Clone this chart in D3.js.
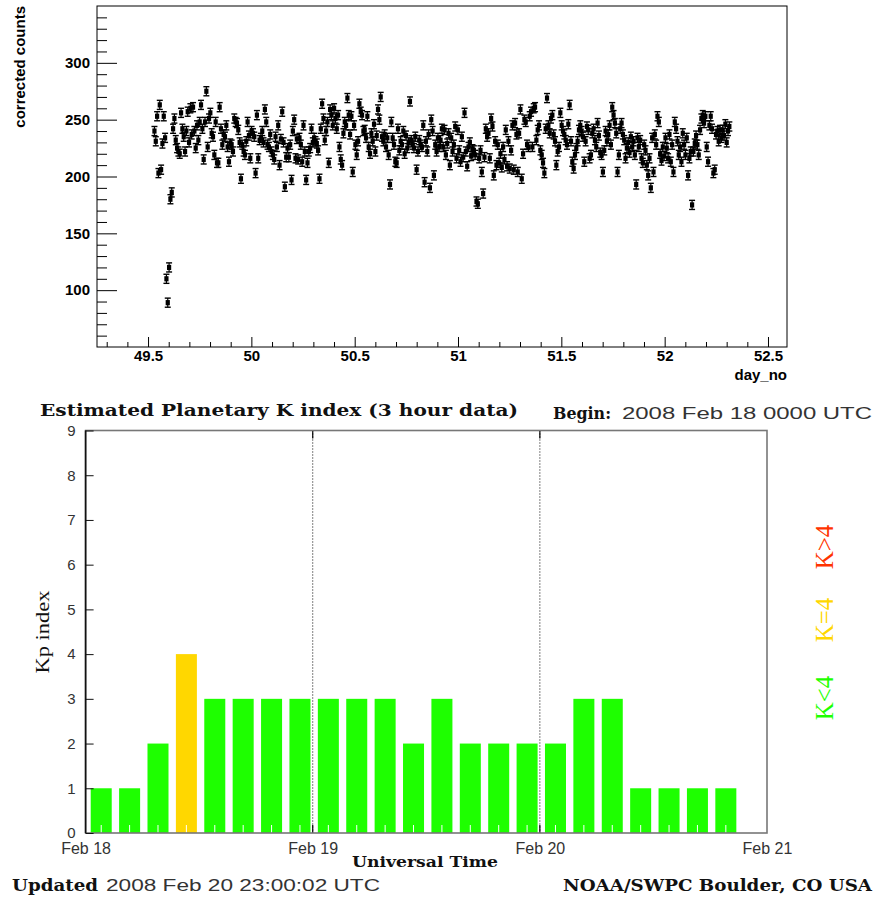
<!DOCTYPE html>
<html>
<head>
<meta charset="utf-8">
<script src="https://cdn.jsdelivr.net/npm/d3@7"></script>
<style>
    body { margin: 0; background: #fff; }
    svg { display: block; }
    .root text { font-family: "Liberation Sans", Arial, sans-serif; font-weight: bold; font-size: 15px; fill: #000; }
    .kp-tick text { font-family: "Liberation Sans", Arial, sans-serif; font-size: 15px; fill: #333; }
    .serif-b { font-family: "DejaVu Serif", serif; font-weight: bold; fill: #111; }
    .serif { font-family: "Liberation Serif", "Times New Roman", serif; }
    .thin { font-family: "Liberation Sans", Arial, sans-serif; fill: #333; }
</style>
</head>
<body>
<svg id="chart" width="877" height="899"></svg>
<script>
// ---- neutron monitor: corrected counts, evenly sampled between these two day_no ----
var countsStartDay = 49.531;
var countsEndDay = 52.313;
var countError = 4;
var correctedCounts = [
    240,231,253,203,263,206,229,253,234,110,89,120,180,186,242,251,232,225,222,220,256,242,235,222,
    240,257,230,260,237,261,240,225,245,232,248,263,242,215,248,275,226,251,256,238,235,219,248,212,
    212,261,242,228,237,235,245,226,213,229,228,222,251,248,247,241,230,198,228,222,219,231,248,236,
    216,240,238,235,203,254,216,232,234,240,230,259,248,228,226,237,222,219,215,235,226,245,210,233,
    257,230,191,217,225,217,228,197,240,250,216,233,215,234,228,213,245,222,197,212,222,225,242,230,
    234,231,229,223,198,242,264,251,232,240,248,212,259,254,245,260,251,242,254,226,215,210,238,248,
    245,269,254,237,253,204,245,228,219,231,264,257,254,240,241,234,253,226,220,238,231,246,222,236,
    259,250,270,235,231,237,226,234,219,193,248,234,228,213,212,242,223,231,228,240,220,236,225,230,
    266,232,228,225,235,206,222,232,228,226,245,195,231,222,237,190,250,240,201,228,222,234,226,232,
    242,226,241,219,229,238,210,234,222,228,244,216,241,223,213,235,217,256,222,209,226,230,218,224,
    223,219,178,176,216,223,204,185,217,242,235,238,216,251,244,201,231,210,228,212,220,208,226,215,
    241,209,231,207,223,245,206,247,237,204,238,259,198,220,250,248,228,226,253,257,226,260,261,232,
    241,245,223,219,212,203,242,269,245,238,251,254,237,231,210,222,226,256,245,240,237,232,228,246,
    263,231,213,207,219,225,231,241,245,240,235,213,231,244,241,216,219,238,242,232,226,247,236,221,
    219,204,223,240,231,237,245,228,261,254,247,238,204,219,242,247,237,232,216,225,230,221,235,226,
    231,219,193,234,226,232,216,212,228,223,210,201,216,190,234,204,237,228,253,248,220,214,226,218,
    234,225,216,237,213,228,204,248,242,231,219,226,213,238,228,219,234,201,216,222,175,222,229,236,
    228,219,241,251,254,247,253,226,213,245,253,242,203,206,237,240,231,241,234,241,236,246,230,240,
    244
];
var dayTicks = [49.5, 50, 50.5, 51, 51.5, 52, 52.5];
var countTicks = [100, 150, 200, 250, 300];

// ---- estimated planetary K index, 3 hour data ----
var kpTimes = [
    "2008-02-18T00:00Z", "2008-02-18T03:00Z", "2008-02-18T06:00Z", "2008-02-18T09:00Z",
    "2008-02-18T12:00Z", "2008-02-18T15:00Z", "2008-02-18T18:00Z", "2008-02-18T21:00Z",
    "2008-02-19T00:00Z", "2008-02-19T03:00Z", "2008-02-19T06:00Z", "2008-02-19T09:00Z",
    "2008-02-19T12:00Z", "2008-02-19T15:00Z", "2008-02-19T18:00Z", "2008-02-19T21:00Z",
    "2008-02-20T00:00Z", "2008-02-20T03:00Z", "2008-02-20T06:00Z", "2008-02-20T09:00Z",
    "2008-02-20T12:00Z", "2008-02-20T15:00Z", "2008-02-20T18:00Z"
];
var kpValues = [1, 1, 2, 4, 3, 3, 3, 3, 3, 3, 3, 2, 3, 2, 2, 2, 2, 3, 3, 1, 1, 1, 1];
var kpTicks = [0, 1, 2, 3, 4, 5, 6, 7, 8, 9];
var dayDates = ["2008-02-18T00:00Z", "2008-02-19T00:00Z", "2008-02-20T00:00Z", "2008-02-21T00:00Z"];
var dayLabels = ["Feb 18", "Feb 19", "Feb 20", "Feb 21"];
var legendLabels = ["K<4", "K=4", "K>4"];

var green = "#1eff00", yellow = "#ffd700", red = "#ff3300";
function kpColor(v) { return v < 4 ? green : (v == 4 ? yellow : red); }

var svg = d3.select("#chart");

// ================= top panel =================
var countsPanel = svg.append("g").attr("class", "root");

var x = d3.scaleLinear().domain([49.253, 52.592]).range([97, 787]);
var y = d3.scaleLinear().domain([50, 350]).range([347, 6]);

var step = (countsEndDay - countsStartDay) / (correctedCounts.length - 1);
var points = correctedCounts.map(function(v, i) {
    return { day: countsStartDay + i * step, value: v };
});

countsPanel.append("rect")
    .attr("x", x.range()[0]).attr("y", y.range()[1])
    .attr("width", x.range()[1] - x.range()[0])
    .attr("height", y.range()[0] - y.range()[1])
    .attr("fill", "none").attr("stroke", "#000").attr("stroke-width", 1);

var minorDay = d3.range(493, 526).filter(function(d) { return d % 5 != 0; }).map(function(d) { return d / 10; });
var minorCount = d3.range(60, 350, 10).filter(function(d) { return d % 50 != 0; });

countsPanel.append("g")
    .attr("transform", "translate(0," + y.range()[0] + ")")
    .call(d3.axisBottom(x).tickValues(dayTicks).tickSize(-10).tickPadding(3).tickFormat(d3.format("")))
    .call(function(g) { g.select(".domain").remove(); });
countsPanel.append("g")
    .attr("transform", "translate(0," + y.range()[0] + ")")
    .call(d3.axisBottom(x).tickValues(minorDay).tickSize(-5).tickFormat(""))
    .call(function(g) { g.select(".domain").remove(); });

countsPanel.append("g")
    .attr("transform", "translate(" + x.range()[0] + ",0)")
    .call(d3.axisLeft(y).tickValues(countTicks).tickSize(-20).tickPadding(7))
    .call(function(g) { g.select(".domain").remove(); });
countsPanel.append("g")
    .attr("transform", "translate(" + x.range()[0] + ",0)")
    .call(d3.axisLeft(y).tickValues(minorCount).tickSize(-10).tickFormat(""))
    .call(function(g) { g.select(".domain").remove(); });

countsPanel.selectAll(".tick line").attr("stroke", "#000");

// error bars + square markers
var pt = countsPanel.append("g").selectAll("g").data(points).enter().append("g");
pt.append("line")
    .attr("x1", function(d) { return x(d.day); }).attr("x2", function(d) { return x(d.day); })
    .attr("y1", function(d) { return y(d.value - countError); })
    .attr("y2", function(d) { return y(d.value + countError); })
    .attr("stroke", "#000").attr("stroke-width", 1.2);
[-1, 1].forEach(function(s) {
    pt.append("line")
        .attr("x1", function(d) { return x(d.day) - 3; }).attr("x2", function(d) { return x(d.day) + 3; })
        .attr("y1", function(d) { return y(d.value + s * countError); })
        .attr("y2", function(d) { return y(d.value + s * countError); })
        .attr("stroke", "#000").attr("stroke-width", 1.4);
});
pt.append("rect")
    .attr("x", function(d) { return x(d.day) - 2.1; })
    .attr("y", function(d) { return y(d.value) - 2.6; })
    .attr("width", 4.2).attr("height", 5.2)
    .attr("fill", "#000");

countsPanel.append("text")
    .attr("transform", "translate(25,6) rotate(-90)")
    .attr("text-anchor", "end")
    .text("corrected counts");
countsPanel.append("text")
    .attr("x", 787).attr("y", 380)
    .attr("text-anchor", "end")
    .text("day_no");

// ================= Kp panel =================
var kp = svg.append("g");

var t = d3.scaleUtc()
    .domain([new Date(dayDates[0]), new Date(dayDates[3])])
    .range([85.6, 767]);
var yk = d3.scaleLinear().domain([0, 9]).range([833, 430.5]);

var bars = kp.append("g").selectAll("g")
    .data(kpValues.map(function(v, i) { return { t: new Date(kpTimes[i]), v: v }; }))
    .enter().append("g");

function slotW(d) { return t(new Date(+d.t + 3 * 3600e3)) - t(d.t); }

bars.append("rect")
    .attr("x", function(d) { return t(d.t) + 0.18 * slotW(d); })
    .attr("width", function(d) { return 0.74 * slotW(d); })
    .attr("y", function(d) { return yk(d.v); })
    .attr("height", function(d) { return yk(0) - yk(d.v); })
    .attr("fill", function(d) { return kpColor(d.v); });
bars.append("line")
    .attr("x1", function(d) { return t(d.t) + 0.55 * slotW(d); })
    .attr("x2", function(d) { return t(d.t) + 0.55 * slotW(d); })
    .attr("y1", yk(0)).attr("y2", yk(0) - 8)
    .attr("stroke", "#fff").attr("stroke-width", 1);

// day separators
var inner = dayDates.slice(1, 3).map(function(d) { return new Date(d); });
kp.append("g").selectAll("line").data(inner).enter().append("line")
    .attr("x1", t).attr("x2", t)
    .attr("y1", yk(9)).attr("y2", yk(0))
    .attr("stroke", "#000").attr("stroke-width", 1).attr("stroke-dasharray", "1,2");
[[yk(9), yk(9) + 8], [yk(0), yk(0) - 8]].forEach(function(p) {
    kp.append("g").selectAll("line").data(inner).enter().append("line")
        .attr("x1", t).attr("x2", t)
        .attr("y1", p[0]).attr("y2", p[1])
        .attr("stroke", "#000").attr("stroke-width", 1.2);
});

// frame
kp.append("rect")
    .attr("x", t.range()[0]).attr("y", yk(9))
    .attr("width", t.range()[1] - t.range()[0]).attr("height", yk(0) - yk(9))
    .attr("fill", "none").attr("stroke", "#777").attr("stroke-width", 1.6);
kp.append("line")
    .attr("x1", t.range()[0]).attr("x2", t.range()[0])
    .attr("y1", yk(9)).attr("y2", yk(0))
    .attr("stroke", "#111").attr("stroke-width", 1.6);

kp.append("g")
    .attr("class", "kp-tick")
    .attr("transform", "translate(" + t.range()[0] + ",0)")
    .call(d3.axisLeft(yk).tickValues(kpTicks).tickSize(-8).tickPadding(10))
    .call(function(g) { g.select(".domain").remove(); })
    .call(function(g) { g.selectAll(".tick line").attr("stroke", "#111"); });

kp.append("g")
    .attr("class", "kp-tick")
    .attr("transform", "translate(0," + yk(0) + ")")
    .call(d3.axisBottom(t).tickValues(dayDates.map(function(d) { return new Date(d); }))
        .tickSize(0).tickPadding(10)
        .tickFormat(function(d, i) { return dayLabels[i]; }))
    .call(function(g) { g.select(".domain").remove(); })
    .call(function(g) { g.selectAll("text").style("font-size", "16px"); });

kp.append("text")
    .attr("class", "serif")
    .attr("transform", "translate(49,632) rotate(-90)")
    .attr("text-anchor", "middle")
    .attr("font-size", 19).attr("fill", "#111")
    .attr("textLength", 83).attr("lengthAdjust", "spacingAndGlyphs")
    .text("Kp index");

// legend
var legendY = [698, 620, 547];
kp.append("g").selectAll("text").data(legendLabels).enter().append("text")
    .attr("class", "serif")
    .attr("transform", function(d, i) { return "translate(833," + legendY[i] + ") rotate(-90)"; })
    .attr("text-anchor", "middle")
    .attr("font-size", 25)
    .attr("fill", function(d, i) { return [green, yellow, red][i]; })
    .text(function(d) { return d; });

// titles and footer
function label(txt, cls, xx, yy, len, size, anchor) {
    kp.append("text")
        .attr("class", cls)
        .attr("x", xx).attr("y", yy)
        .attr("text-anchor", anchor || "start")
        .attr("font-size", size)
        .attr("textLength", len).attr("lengthAdjust", "spacingAndGlyphs")
        .text(txt);
}
label("Estimated Planetary K index (3 hour data)", "serif-b", 40, 416, 478, 16);
label("Begin:", "serif-b", 553, 419, 58, 16);
label("2008 Feb 18 0000 UTC", "thin", 622, 419, 250, 16);
label("Universal Time", "serif-b", 425, 867, 146, 15, "middle");
label("Updated", "serif-b", 12, 891, 86, 16);
label("2008 Feb 20 23:00:02 UTC", "thin", 106, 891, 274, 16);
label("NOAA/SWPC Boulder, CO USA", "serif-b", 563, 891, 309, 16);
</script>
</body>
</html>
